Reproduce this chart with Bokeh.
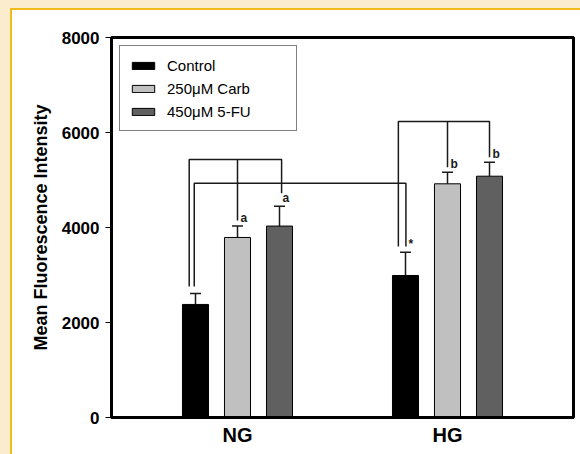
from bokeh.plotting import figure
from bokeh.models import (ColumnDataSource, Whisker, TeeHead, Legend, LegendItem,
                          FixedTicker, Range1d)
from bokeh.core.properties import value
from bokeh.embed import file_html
from bokeh.resources import INLINE

# ---------------- data ----------------
groups = ["NG", "HG"]
treatments = ["Control", "250μM Carb", "450μM 5-FU"]
control_mean = [2380, 2990]
carb_mean = [3790, 4920]
fu_mean = [4030, 5080]
control_err = [230, 490]
carb_err = [240, 245]
fu_err = [420, 295]
sig_control = ["", "*"]
sig_carb = ["a", "b"]
sig_fu = ["a", "b"]
y_ticks = [0, 2000, 4000, 6000, 8000]
y_label = "Mean Fluorescence Intensity"

# ---------------- layout / style ----------------
group_center = [3 + 5 * i for i in range(len(groups))]
offsets = [-1, 0, 1]
bar_width = 0.62
colors = ["#000000", "#c0c0c0", "#606060"]
FONT = "Liberation Sans"
# bracket levels (NG within-group, NG->HG control, HG within-group)
bracket_levels = [5430, 4930, 6230]
drop_gap = [[150, 120, 270], [120, 105, 105]]

W, H = 580, 454
FL, FR, FT, FB = 111, 573, 37, 417  # frame edges in px

CREAM = "#fbeccd"
GOLD = "#f2bb1c"
bg = (f"linear-gradient({GOLD},{GOLD}) 10px 8px / 570px 2px no-repeat, "
      f"linear-gradient({GOLD},{GOLD}) 10px 8px / 2px 446px no-repeat, "
      f"linear-gradient(#ffffff,#ffffff) 12px 10px / 568px 444px no-repeat, "
      f"{CREAM}")

p = figure(frame_width=FR - FL, frame_height=FB - FT,
           output_backend="svg", toolbar_location=None,
           x_range=Range1d(0, 11), y_range=Range1d(0, 8000),
           min_border_left=FL, min_border_right=W - FR,
           min_border_top=FT, min_border_bottom=H - FB,
           styles={"background": bg})
p.background_fill_color = "white"
p.border_fill_color = None
p.border_fill_alpha = 0
p.outline_line_color = "black"
p.outline_line_width = 3
p.grid.visible = False

means = [control_mean, carb_mean, fu_mean]
errs = [control_err, carb_err, fu_err]
sigs = [sig_control, sig_carb, sig_fu]

renderers = []
xpos = []  # xpos[t][g]
for t in range(len(treatments)):
    xs = [group_center[g] + offsets[t] for g in range(len(groups))]
    xpos.append(xs)
    src = ColumnDataSource(dict(
        x=xs, top=means[t],
        upper=[m + e for m, e in zip(means[t], errs[t])],
        sig=sigs[t]))
    r = p.vbar(x="x", top="top", width=bar_width, source=src,
               fill_color=colors[t], line_color="black", line_width=1)
    renderers.append(r)
    w = Whisker(base="x", lower="top", upper="upper", source=src, dimension="height",
                line_color="#1a1a1a", line_width=1.5,
                upper_head=TeeHead(size=11, line_color="#1a1a1a", line_width=1.5),
                lower_head=None)
    p.add_layout(w)
    p.text(x="x", y="upper", text="sig", source=src, x_offset=3, y_offset=-8,
           text_align="left", text_baseline="middle",
           text_font=value(FONT), text_font_style="bold", text_font_size="12px",
           text_color="#1a1a1a")

# bracket drop ends
def drop_end(t, g):
    return means[t][g] + errs[t][g] + drop_gap[g][t]

bxs, bys = [], []
# NG within-group bracket
g = 0
lvl = bracket_levels[0]
x0 = xpos[0][g] - 0.15
x2 = xpos[2][g] + 0.05
bxs.append([x0, x0, x2, x2]); bys.append([drop_end(0, g), lvl, lvl, drop_end(2, g)])
bxs.append([xpos[1][g], xpos[1][g]]); bys.append([lvl, drop_end(1, g)])
# NG control -> HG control
lvl = bracket_levels[1]
xa = xpos[0][0] - 0.03
xb = xpos[0][1] + 0.01
bxs.append([xa, xa, xb, xb]); bys.append([drop_end(0, 0), lvl, lvl, drop_end(0, 1)])
# HG within-group bracket
g = 1
lvl = bracket_levels[2]
x0 = xpos[0][g] - 0.17
x2 = xpos[2][g]
bxs.append([x0, x0, x2, x2]); bys.append([drop_end(0, g), lvl, lvl, drop_end(2, g)])
bxs.append([xpos[1][g], xpos[1][g]]); bys.append([lvl, drop_end(1, g)])
p.multi_line(xs=bxs, ys=bys, line_color="#1a1a1a", line_width=1.5)

# axes
p.yaxis.ticker = FixedTicker(ticks=y_ticks)
p.yaxis.minor_tick_line_color = None
p.yaxis.major_tick_out = 6
p.yaxis.major_tick_in = 0
p.yaxis.major_tick_line_width = 1
p.yaxis.axis_line_width = 3
p.yaxis.major_label_standoff = 6
p.yaxis.major_label_text_font = FONT
p.yaxis.major_label_text_font_style = "bold"
p.yaxis.major_label_text_font_size = "17px"
p.yaxis.major_label_text_color = "black"
p.yaxis.axis_label = y_label
p.yaxis.axis_label_text_font = FONT
p.yaxis.axis_label_text_font_style = "bold"
p.yaxis.axis_label_text_font_size = "18px"
p.yaxis.axis_label_text_color = "black"
p.yaxis.axis_label_standoff = 8

p.xaxis.ticker = FixedTicker(ticks=group_center)
p.xaxis.major_label_overrides = {c: gname for c, gname in zip(group_center, groups)}
p.xaxis.major_tick_line_color = None
p.xaxis.major_tick_out = 0
p.xaxis.major_tick_in = 0
p.xaxis.minor_tick_line_color = None
p.xaxis.axis_line_width = 3
p.xaxis.major_label_standoff = 6
p.xaxis.major_label_text_font = FONT
p.xaxis.major_label_text_font_style = "bold"
p.xaxis.major_label_text_font_size = "20px"
p.xaxis.major_label_text_color = "black"

legend = Legend(items=[LegendItem(label=t, renderers=[r]) for t, r in zip(treatments, renderers)],
                location="top_left", margin=8, padding=9, spacing=3,
                glyph_width=28, glyph_height=9, label_width=120, label_height=20,
                label_standoff=10, border_line_color="black", border_line_width=1,
                background_fill_color="white", background_fill_alpha=1,
                label_text_font=FONT, label_text_font_size="15px", label_text_color="black")
p.add_layout(legend)

open("out.html", "w").write(file_html(p, INLINE))
